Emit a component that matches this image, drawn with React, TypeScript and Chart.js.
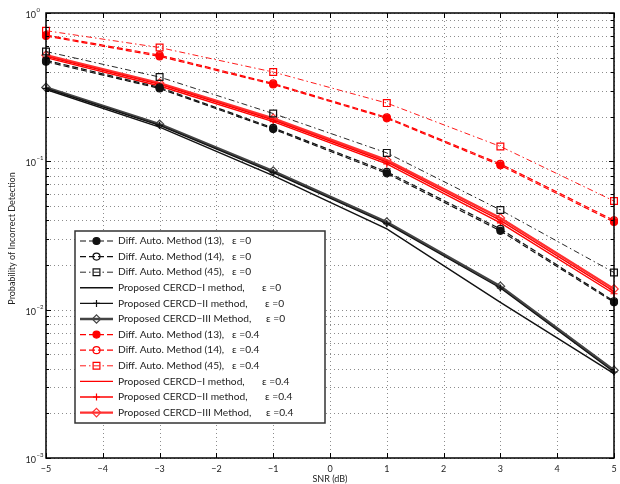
import React, { useEffect, useRef } from 'react';
import { Chart, registerables } from 'chart.js';

Chart.register(...registerables);

// SNR sample points (dB)
const SNR_DB = [-5, -3, -1, 1, 3, 5];
const X_TICKS = [-5, -4, -3, -2, -1, 0, 1, 2, 3, 4, 5];
const Y_DECADES = [0, -1, -2, -3];

// Probability of incorrect detection, eps = 0
const diff13Eps0 = [0.47, 0.31, 0.165, 0.083, 0.034, 0.0112];
const diff14Eps0 = [0.48, 0.315, 0.168, 0.085, 0.035, 0.0114];
const diff45Eps0 = [0.55, 0.37, 0.21, 0.114, 0.047, 0.0178];
const cercd1Eps0 = [0.305, 0.17, 0.08, 0.035, 0.0112, 0.0037];
const cercd2Eps0 = [0.31, 0.175, 0.084, 0.038, 0.014, 0.0038];
const cercd3Eps0 = [0.315, 0.178, 0.086, 0.039, 0.0144, 0.0039];

// Probability of incorrect detection, eps = 0.4
const diff13Eps04 = [0.7, 0.51, 0.33, 0.195, 0.094, 0.039];
const diff14Eps04 = [0.71, 0.52, 0.335, 0.198, 0.096, 0.04];
const diff45Eps04 = [0.76, 0.585, 0.4, 0.247, 0.126, 0.054];
const cercd1Eps04 = [0.51, 0.33, 0.19, 0.099, 0.04, 0.0133];
const cercd2Eps04 = [0.5, 0.322, 0.185, 0.096, 0.0385, 0.0128];
const cercd3Eps04 = [0.52, 0.337, 0.195, 0.102, 0.0415, 0.0138];

const METHOD_LABELS = [
  'Diff. Auto. Method (13),',
  'Diff. Auto. Method (14),',
  'Diff. Auto. Method (45),',
  'Proposed CERCD\u2212I method,',
  'Proposed CERCD\u2212II method,',
  'Proposed CERCD\u2212III Method,',
];
const EPS_LABELS = ['\u03b5 =0', '\u03b5 =0.4'];

const X_TITLE = 'SNR (dB)';
const Y_TITLE = 'Probability of Incorrect Detection';

const FONT = 'Lato, "Liberation Sans", sans-serif';

type Style = {
  dash: number[];
  width: number;
  marker: 'circle' | 'rect' | 'rectRot' | 'cross' | 'none';
  filled: boolean;
  radius: number;
};

const METHOD_STYLES: Style[] = [
  { dash: [6, 3], width: 1.2, marker: 'circle', filled: true, radius: 3.5 },
  { dash: [6, 3], width: 1.2, marker: 'circle', filled: false, radius: 3.5 },
  { dash: [6, 3, 1.5, 3], width: 0.9, marker: 'rect', filled: false, radius: 4.8 },
  { dash: [], width: 1.4, marker: 'none', filled: false, radius: 0 },
  { dash: [], width: 1.4, marker: 'cross', filled: false, radius: 3.5 },
  { dash: [], width: 2.4, marker: 'rectRot', filled: false, radius: 4.2 },
];

const SERIES_COLORS = ['#111111', '#ff0000'];
const III_COLORS = ['#444444', '#ff3030'];

const seriesEps0 = [diff13Eps0, diff14Eps0, diff45Eps0, cercd1Eps0, cercd2Eps0, cercd3Eps0];
const seriesEps04 = [diff13Eps04, diff14Eps04, diff45Eps04, cercd1Eps04, cercd2Eps04, cercd3Eps04];

function buildDatasets() {
  const out: any[] = [];
  [seriesEps0, seriesEps04].forEach((group, g) => {
    group.forEach((vals, m) => {
      const st = METHOD_STYLES[m];
      const color = m === 5 ? III_COLORS[g] : SERIES_COLORS[g];
      out.push({
        label: METHOD_LABELS[m] + ' ' + EPS_LABELS[g],
        data: SNR_DB.map((x, i) => ({ x, y: vals[i] })),
        borderColor: color,
        borderWidth: st.width,
        borderDash: st.dash,
        pointStyle: st.marker === 'none' ? false : st.marker,
        pointRadius: st.marker === 'none' ? 0 : st.radius,
        pointBorderWidth: 1.2,
        pointBorderColor: color,
        pointBackgroundColor: st.filled ? color : 'rgba(255,255,255,0)',
        tension: 0,
        fill: false,
        clip: false,
      });
    });
  });
  return out;
}

function yGridValues() {
  const vals: number[] = [];
  for (let e = -3; e < 0; e++) {
    for (let k = 1; k <= 9; k++) vals.push(k * Math.pow(10, e));
  }
  vals.push(1);
  return vals;
}

function drawMarker(ctx: CanvasRenderingContext2D, st: Style, color: string, x: number, y: number) {
  if (st.marker === 'none') return;
  ctx.save();
  ctx.setLineDash([]);
  ctx.strokeStyle = color;
  ctx.fillStyle = color;
  ctx.lineWidth = 1.2;
  ctx.beginPath();
  const r = st.radius;
  if (st.marker === 'circle') {
    ctx.arc(x, y, r, 0, Math.PI * 2);
  } else if (st.marker === 'rect') {
    const s = r * Math.SQRT1_2;
    ctx.rect(x - s, y - s, 2 * s, 2 * s);
  } else if (st.marker === 'rectRot') {
    ctx.moveTo(x, y - r);
    ctx.lineTo(x + r, y);
    ctx.lineTo(x, y + r);
    ctx.lineTo(x - r, y);
    ctx.closePath();
  } else if (st.marker === 'cross') {
    ctx.moveTo(x - r, y);
    ctx.lineTo(x + r, y);
    ctx.moveTo(x, y - r);
    ctx.lineTo(x, y + r);
  }
  if (st.filled) ctx.fill();
  ctx.stroke();
  ctx.restore();
}

const gridPlugin = {
  id: 'dottedGrid',
  beforeDatasetsDraw(chart: any) {
    const { ctx, chartArea: a, scales } = chart;
    ctx.save();
    ctx.strokeStyle = '#8c8c8c';
    ctx.lineWidth = 1;
    ctx.setLineDash([1, 3]);
    X_TICKS.forEach((v) => {
      const px = Math.round(scales.x.getPixelForValue(v)) + 0.5;
      ctx.beginPath();
      ctx.moveTo(px, a.top);
      ctx.lineTo(px, a.bottom);
      ctx.stroke();
    });
    yGridValues().forEach((v) => {
      const py = Math.round(scales.y.getPixelForValue(v)) + 0.5;
      ctx.beginPath();
      ctx.moveTo(a.left, py);
      ctx.lineTo(a.right, py);
      ctx.stroke();
    });
    ctx.restore();
  },
};

const framePlugin = {
  id: 'frameAndLegend',
  afterDraw(chart: any) {
    const { ctx, chartArea: a, scales } = chart;
    ctx.save();
    ctx.setLineDash([]);
    ctx.strokeStyle = '#000';
    ctx.lineWidth = 1;

    // inward ticks on all four sides
    X_TICKS.forEach((v) => {
      const px = Math.round(scales.x.getPixelForValue(v)) + 0.5;
      ctx.beginPath();
      ctx.moveTo(px, a.bottom);
      ctx.lineTo(px, a.bottom - 5);
      ctx.moveTo(px, a.top);
      ctx.lineTo(px, a.top + 5);
      ctx.stroke();
    });
    yGridValues().forEach((v) => {
      const py = Math.round(scales.y.getPixelForValue(v)) + 0.5;
      const major = Math.abs(Math.log10(v) - Math.round(Math.log10(v))) < 1e-9;
      const len = major ? 5 : 3;
      ctx.beginPath();
      ctx.moveTo(a.left, py);
      ctx.lineTo(a.left + len, py);
      ctx.moveTo(a.right, py);
      ctx.lineTo(a.right - len, py);
      ctx.stroke();
    });

    // axes box
    ctx.lineWidth = 1.5;
    ctx.strokeRect(a.left, a.top, a.right - a.left, a.bottom - a.top);

    // x tick labels
    ctx.fillStyle = '#222';
    ctx.font = `9px ${FONT}`;
    ctx.textAlign = 'center';
    ctx.textBaseline = 'middle';
    X_TICKS.forEach((v) => {
      const px = scales.x.getPixelForValue(v);
      const txt = v < 0 ? '\u2212' + Math.abs(v) : String(v);
      ctx.fillText(txt, px, 469);
    });

    // y tick labels as powers of ten
    Y_DECADES.forEach((e) => {
      const py = scales.y.getPixelForValue(Math.pow(10, e));
      ctx.font = `9px ${FONT}`;
      ctx.textAlign = 'right';
      ctx.fillText('10', 36, py + 2);
      ctx.font = `6px ${FONT}`;
      ctx.textAlign = 'left';
      ctx.fillText(e === 0 ? '0' : '\u2212' + Math.abs(e), 36.5, py - 3);
    });

    // axis titles
    ctx.font = `9px ${FONT}`;
    ctx.textAlign = 'center';
    ctx.fillText(X_TITLE, (a.left + a.right) / 2, 479);
    ctx.save();
    ctx.translate(12, (a.top + a.bottom) / 2 + 3);
    ctx.rotate(-Math.PI / 2);
    ctx.fillText(Y_TITLE, 0, 0);
    ctx.restore();

    // legend
    const box = { l: 75, t: 231, r: 325, b: 423 };
    ctx.fillStyle = '#fff';
    ctx.fillRect(box.l, box.t, box.r - box.l, box.b - box.t);
    ctx.strokeStyle = '#333';
    ctx.lineWidth = 1.5;
    ctx.strokeRect(box.l, box.t, box.r - box.l, box.b - box.t);

    const epsX = [232, 232, 232, 262, 265, 266];
    let row = 0;
    [0, 1].forEach((g) => {
      METHOD_LABELS.forEach((label, m) => {
        const st = METHOD_STYLES[m];
        const color = m === 5 ? III_COLORS[g] : SERIES_COLORS[g];
        const y = 241 + row * 15.6;
        ctx.save();
        ctx.strokeStyle = color;
        ctx.lineWidth = st.width;
        ctx.setLineDash(st.dash);
        ctx.beginPath();
        ctx.moveTo(80, y);
        ctx.lineTo(113, y);
        ctx.stroke();
        ctx.restore();
        drawMarker(ctx, st, color, 96.5, y);
        ctx.fillStyle = '#222';
        ctx.font = `10.2px ${FONT}`;
        ctx.textAlign = 'left';
        ctx.textBaseline = 'middle';
        ctx.fillText(label, 118, y);
        ctx.fillText(EPS_LABELS[g], epsX[m], y);
        row++;
      });
    });
    ctx.restore();
  },
};

export default function App() {
  const ref = useRef<HTMLCanvasElement>(null);
  useEffect(() => {
    const chart = new Chart(ref.current as HTMLCanvasElement, {
      type: 'line',
      data: { datasets: buildDatasets() },
      options: {
        animation: false,
        responsive: false,
        maintainAspectRatio: false,
        devicePixelRatio: 1,
        layout: { padding: { left: 46, right: 2, top: 13, bottom: 26 } },
        plugins: { legend: { display: false }, tooltip: { enabled: false } },
        scales: {
          x: { type: 'linear', min: -5, max: 5, display: false },
          y: { type: 'logarithmic', min: 0.001, max: 1, display: false },
        },
      },
      plugins: [gridPlugin, framePlugin],
    } as any);
    return () => chart.destroy();
  }, []);
  return (
    <div style={{ position: 'fixed', left: 0, top: 0, width: 620, height: 484, background: '#fff' }}>
      <canvas ref={ref} width={620} height={484} />
    </div>
  );
}
